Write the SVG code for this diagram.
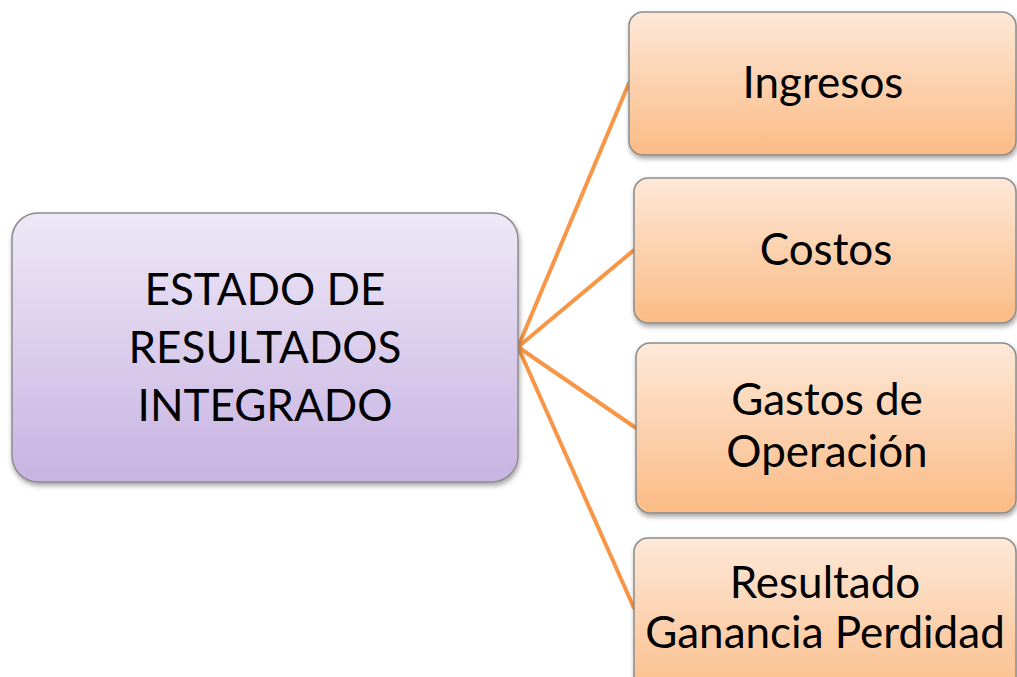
<svg xmlns="http://www.w3.org/2000/svg" width="1017" height="677" viewBox="0 0 1017 677">
<style>
.lbl{font-family:Lato,"Open Sans","Liberation Sans",sans-serif;font-size:44px;fill:#000;text-anchor:middle}
.org{fill:url(#gO);stroke:#8c8c8c;stroke-width:1.5;filter:url(#sh)}
.pur{fill:url(#gP);stroke:#8c8c8c;stroke-width:1.5;filter:url(#sh)}
.con{stroke:#f79646;stroke-width:4;fill:none;stroke-linecap:round}
</style>
<defs>
<linearGradient id="gO" x1="0" y1="0" x2="0" y2="1">
<stop offset="0" stop-color="#fde8d8"/><stop offset="1" stop-color="#fbbb85"/>
</linearGradient>
<linearGradient id="gP" x1="0" y1="0" x2="0" y2="1">
<stop offset="0" stop-color="#eee8f7"/><stop offset="1" stop-color="#c8b3e2"/>
</linearGradient>
<filter id="sh" x="-10%" y="-10%" width="120%" height="130%">
<feDropShadow dx="1" dy="3" stdDeviation="2.5" flood-color="#000" flood-opacity="0.35"/>
</filter>
</defs>
<g id="connectors">
<line class="con" x1="518" y1="347" x2="629" y2="83"/>
<line class="con" x1="518" y1="347" x2="634" y2="250"/>
<line class="con" x1="518" y1="347" x2="636" y2="428"/>
<line class="con" x1="518" y1="347" x2="634" y2="608"/>
</g>
<g id="center">
<rect class="pur" x="12" y="213" width="506" height="269" rx="26"/>
<text class="lbl" x="265" y="305">ESTADO DE</text>
<text class="lbl" x="265" y="363">RESULTADOS</text>
<text class="lbl" x="265" y="421">INTEGRADO</text>
</g>
<g id="ingresos">
<rect class="org" x="629" y="12" width="387" height="143" rx="14"/>
<text class="lbl" x="823" y="98">Ingresos</text>
</g>
<g id="costos">
<rect class="org" x="634" y="178" width="382" height="145" rx="14"/>
<text class="lbl" x="826" y="265">Costos</text>
</g>
<g id="gastos">
<rect class="org" x="636" y="343" width="380" height="170" rx="14"/>
<text class="lbl" x="827" y="415">Gastos de</text>
<text class="lbl" x="827" y="467">Operación</text>
</g>
<g id="resultado">
<rect class="org" x="634" y="538" width="382" height="170" rx="14"/>
<text class="lbl" x="825" y="598">Resultado</text>
<text class="lbl" x="825" y="648">Ganancia Perdidad</text>
</g>
</svg>
